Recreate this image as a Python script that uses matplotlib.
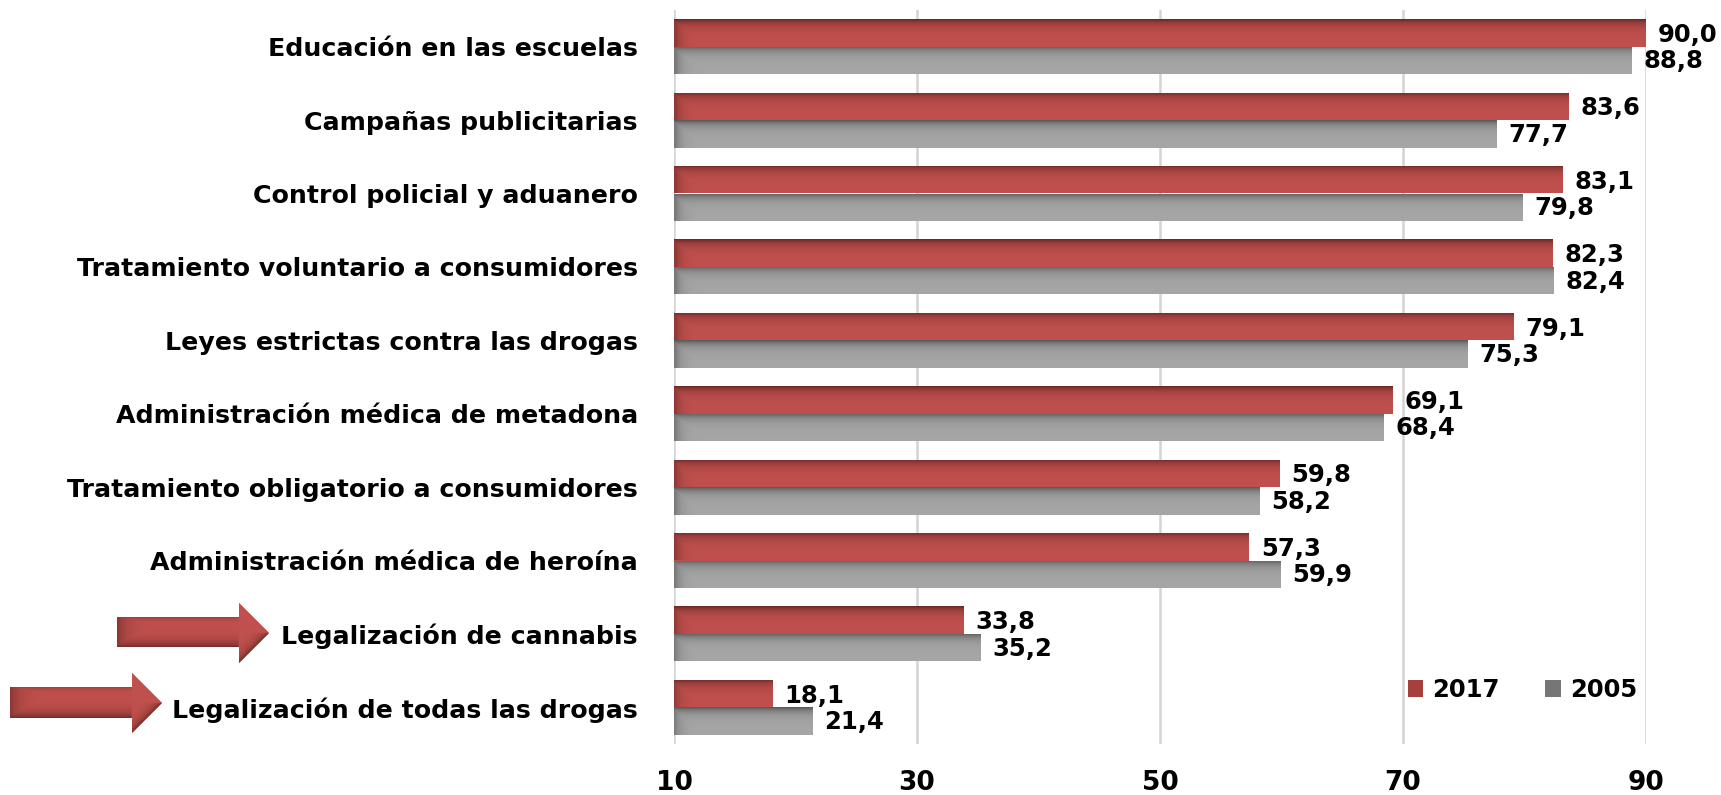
import numpy as np
import matplotlib
matplotlib.use("Agg")
import matplotlib.pyplot as plt
from matplotlib.patches import Polygon, Patch

categories = [
    "Educación en las escuelas",
    "Campañas publicitarias",
    "Control policial y aduanero",
    "Tratamiento voluntario a consumidores",
    "Leyes estrictas contra las drogas",
    "Administración médica de metadona",
    "Tratamiento obligatorio a consumidores",
    "Administración médica de heroína",
    "Legalización de cannabis",
    "Legalización de todas las drogas",
]
v2017 = [90.0, 83.6, 83.1, 82.3, 79.1, 69.1, 59.8, 57.3, 33.8, 18.1]
v2005 = [88.8, 77.7, 79.8, 82.4, 75.3, 68.4, 58.2, 59.9, 35.2, 21.4]
xticks = [10, 30, 50, 70, 90]

RED = np.array([0.753, 0.314, 0.302])
RED_DK = np.array([0.40, 0.15, 0.14])
GRAY = np.array([0.651, 0.651, 0.651])
GRAY_DK = np.array([0.33, 0.33, 0.33])

plt.rcParams['font.family'] = ['DejaVu Sans']
plt.rcParams['font.weight'] = 'bold'

W, H = 1721, 795
fig = plt.figure(figsize=(W / 100, H / 100), dpi=100)
ax = fig.add_axes([674 / W, 1 - 744 / H, (1646 - 674) / W, (744 - 10) / H])

x0 = xticks[0]
y = np.arange(len(categories))
bh = 0.376
b1 = ax.barh(y - bh / 2, np.array(v2017) - x0, left=x0, height=bh, color=RED, zorder=2)
b2 = ax.barh(y + bh / 2, np.array(v2005) - x0, left=x0, height=bh, color=GRAY, zorder=2)

px_per_unit = (1646 - 674) / (xticks[-1] - xticks[0])


def shade(patch, base, dark):
    bx, by = patch.get_x(), patch.get_y()
    bw, bhh = patch.get_width(), patch.get_height()
    ny, nx = 40, 300
    t = np.linspace(0, 1, ny)[:, None]
    xs = np.linspace(0, bw, nx)[None, :] * px_per_unit
    a_top = np.exp(-t / 0.18) * 0.95
    a_left = np.exp(-xs / 6.0) * 0.55
    a = np.maximum(a_top, a_left)[..., None]
    img = base * (1 - a) + dark * a
    im = ax.imshow(img, extent=(bx, bx + bw, by + bhh, by), aspect='auto',
                   zorder=3, interpolation='bilinear')
    im.set_clip_path(patch)


for p in b1:
    shade(p, RED, RED_DK)
for p in b2:
    shade(p, GRAY, GRAY_DK)


def fmt(v):
    return f"{v:.1f}".replace('.', ',')


for yi, v in zip(y, v2017):
    ax.annotate(fmt(v), (v, yi - bh / 2), xytext=(12, -2), textcoords='offset pixels',
                ha='left', va='center', fontsize=17.5, fontweight='bold', zorder=5)
for yi, v in zip(y, v2005):
    ax.annotate(fmt(v), (v, yi + bh / 2), xytext=(12, -1), textcoords='offset pixels',
                ha='left', va='center', fontsize=17.5, fontweight='bold', zorder=5)

ax.set_xlim(xticks[0], xticks[-1])
ax.set_ylim(len(categories) - 0.5, -0.5)
ax.set_xticks(xticks)
ax.set_yticks(y)
ax.set_yticklabels(categories)
ax.tick_params(axis='y', length=0, pad=26, labelsize=18.2)
ax.tick_params(axis='x', length=0, pad=19, labelsize=19)
for lab in ax.get_xticklabels() + ax.get_yticklabels():
    lab.set_fontweight('bold')
ax.grid(axis='x', color='#d4d4d4', linewidth=1.8, zorder=0)
ax.set_axisbelow(True)
for s in ax.spines.values():
    s.set_visible(False)

handles = [Patch(facecolor='#a5403c'), Patch(facecolor='#767676')]
ax.legend(handles, ['2017', '2005'], ncol=2, loc='center right', frameon=False,
          bbox_to_anchor=((1637 - 674) / 972, (744 - 690) / 734),
          borderpad=0, borderaxespad=0,
          prop={'size': 17.5, 'weight': 'bold'},
          handlelength=0.65, handleheight=0.65, handletextpad=0.35, columnspacing=1.9)

# decorative arrows in pixel coordinates
over = fig.add_axes([0, 0, 1, 1], zorder=-1)
over.set_xlim(0, W)
over.set_ylim(H, 0)
over.axis('off')


def arrow(xl, xh, xt, yb0, yb1, yh0, yh1):
    ym = (yh0 + yh1) / 2
    pts = [(xl, yb0), (xh, yb0), (xh, yh0), (xt, ym), (xh, yh1), (xh, yb1), (xl, yb1)]
    poly = Polygon(pts, closed=True, facecolor=RED, edgecolor='none', zorder=1)
    over.add_patch(poly)
    ny, nx = 80, 200
    yy, xs = np.meshgrid(np.linspace(yh0, yh1, ny), np.linspace(xl, xt, nx), indexing='ij')
    body = xs < xh
    rb = np.clip((yb1 - yy) / (yb1 - yb0), 0, None)
    rt = np.clip((yy - yb0) / (yb1 - yb0), 0, None)
    a_body = np.maximum(np.exp(-rb / 0.18) * 0.85, np.exp(-rt / 0.08) * 0.4)
    a_left = np.exp(-(xs - xl) / 10.0) * 0.6
    edge_low = yh1 - (xs - xh) / (xt - xh) * (yh1 - ym)
    a_head = np.exp(-np.abs(yy - edge_low) / 6.0) * 0.8
    a = np.where(body, np.maximum(a_body, a_left), np.where(yy > ym, a_head, 0.0))
    a = np.clip(a, 0, 1)[..., None]
    img = RED * (1 - a) + RED_DK * a
    im = over.imshow(img, extent=(xl, xt, yh1, yh0), aspect='auto',
                     interpolation='bilinear', zorder=2)
    im.set_clip_path(poly)


arrow(117, 239, 269, 617, 647, 603, 663)
arrow(10, 132, 162, 687, 718, 673, 733)

fig.savefig("out.png", dpi=100)
